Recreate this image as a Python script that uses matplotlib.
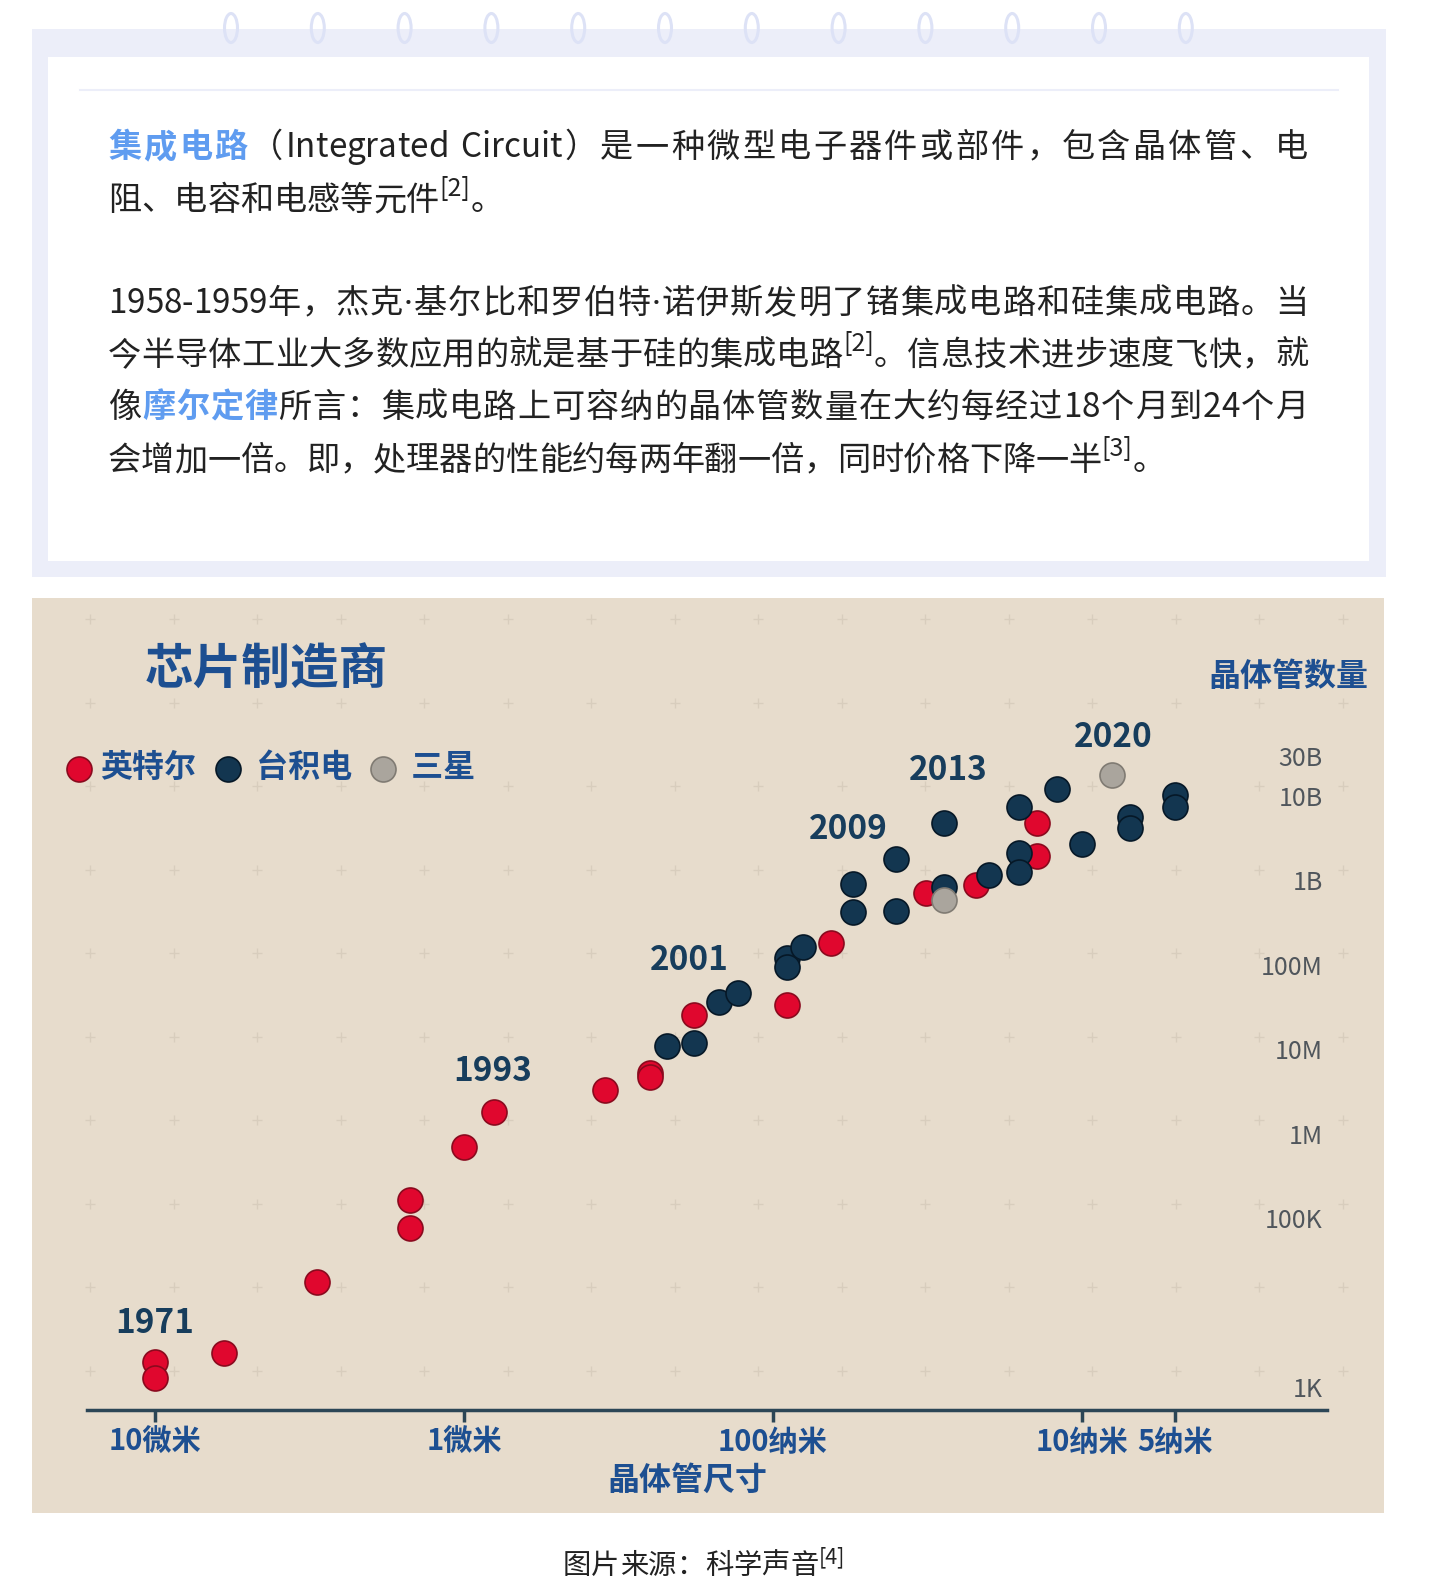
import matplotlib
matplotlib.use('Agg')
import matplotlib.pyplot as plt
import numpy as np
from matplotlib.patches import Rectangle, Ellipse
from matplotlib.font_manager import FontProperties
from matplotlib.ticker import NullLocator

plt.rcParams['font.family'] = ['Noto Sans CJK SC', 'DejaVu Sans']

W, H = 1430, 1594
CJK = ['Noto Sans CJK SC', 'DejaVu Sans']
LATIN = ['Noto Sans', 'DejaVu Sans']

# ---- chart data (feature size in nm, transistor count) ----
intel_nm = [10000, 10000, 6000, 3000, 1500, 1500, 1000, 800, 350, 250, 250,
            180, 90, 65, 32, 22, 14, 14]
intel_count = [1980, 1260, 2540, 17500, 163000, 75500, 700000, 1.82e6, 3.3e6,
               5.27e6, 4.65e6, 25.4e6, 33.4e6, 181e6, 709e6, 882e6, 4.79e9, 1.95e9]

tsmc_nm = [220, 180, 150, 130, 90, 90, 80, 55, 55, 40, 40, 28, 28, 20,
           16, 16, 16, 12, 10, 7, 7, 5, 5]
tsmc_count = [10.9e6, 12.0e6, 36.2e6, 46.3e6, 120e6, 94e6, 162e6, 906e6, 422e6,
              1.79e9, 434e6, 4.79e9, 835e6, 1.16e9, 7.41e9, 2.11e9, 1.26e9,
              12.1e9, 2.70e9, 5.64e9, 4.18e9, 10.3e9, 7.41e9]

samsung_nm = [28, 8]
samsung_count = [586e6, 17.7e9]

years = ['1971', '1993', '2001', '2009', '2013', '2020']
year_nm = [10000, 805, 187, 57, 27, 7.9]
year_count = [5700, 5.37e6, 111e6, 4.06e9, 20.3e9, 50e9]

x_ticks = [10000, 1000, 100, 10, 5]
x_labels = ['10微米', '1微米', '100纳米', '10纳米', '5纳米']
y_ticks = [1e3, 1e5, 1e6, 1e7, 1e8, 1e9, 1e10, 3e10]
y_labels = ['1K', '100K', '1M', '10M', '100M', '1B', '10B', '30B']

# ---- paragraph text: (runs, justify) ; kinds: n normal, b blue bold, s superscript ----
para_lines = [
    ([('集成电路', 'b'), ('（Integrated Circuit）是一种微型电子器件或部件，包含晶体管、电', 'n')], True),
    ([('阻、电容和电感等元件', 'n'), ('[2]', 's'), ('。', 'n')], False),
    ([('1958-1959年，杰克·基尔比和罗伯特·诺伊斯发明了锗集成电路和硅集成电路。当', 'n')], True),
    ([('今半导体工业大多数应用的就是基于硅的集成电路', 'n'), ('[2]', 's'), ('。信息技术进步速度飞快，就', 'n')], True),
    ([('像', 'n'), ('摩尔定律', 'b'), ('所言：集成电路上可容纳的晶体管数量在大约每经过18个月到24个月', 'n')], True),
    ([('会增加一倍。即，处理器的性能约每两年翻一倍，同时价格下降一半', 'n'), ('[3]', 's'), ('。', 'n')], False),
]
line_baselines = [157, 210, 313, 365, 417, 470]
caption_runs = [('图片来源：科学声音', 'n'), ('[4]', 's')]

INK = '#222222'
LINK = '#5f9cf0'
NAVY = '#1d4f91'
YEAR = '#173d5c'

fig = plt.figure(figsize=(W / 100, H / 100), dpi=100)
fig.patch.set_facecolor('white')

# background layer in pixel coordinates
ax_bg = fig.add_axes([0, 0, 1, 1])
ax_bg.set_xlim(0, W)
ax_bg.set_ylim(H, 0)
ax_bg.axis('off')

# top card
ax_bg.add_patch(Rectangle((32, 29), 1354, 548, color='#eceef9', lw=0))
ax_bg.add_patch(Rectangle((48, 57), 1321, 504, color='white', lw=0))
ax_bg.plot([80, 1338], [90, 90], color='#eceef9', lw=1.5)
for i in range(12):
    ax_bg.add_patch(Ellipse((231 + 86.8 * i, 28), 13, 29, fill=False,
                            edgecolor='#dde2f6', lw=2.2))

# chart panel
ax_bg.add_patch(Rectangle((32, 598), 1352, 915, color='#e7dccc', lw=0))
gx, gy = np.meshgrid(90 + 83.5 * np.arange(16), 619 + 83.5 * np.arange(10))
ax_bg.plot(gx.ravel(), gy.ravel(), ls='none', marker='+', ms=7, mew=1.0,
           color='#d8cdbd')

renderer = fig.canvas.get_renderer()


def advance(text, prop):
    a = renderer.get_text_width_height_descent('|' + text + '|', prop, ismath=False)[0]
    b = renderer.get_text_width_height_descent('||', prop, ismath=False)[0]
    return a - b


def is_word(t):
    return len(t) == 1 and t.isascii() and (t.isalnum() or t == '-')


def draw_runs(x0, base, runs, size, sup_size, raise_px, target=None):
    props = {'n': FontProperties(family=CJK, size=size),
             'b': FontProperties(family=CJK, size=size, weight='bold'),
             's': FontProperties(family=CJK, size=sup_size),
             'd': FontProperties(family=LATIN, size=size)}
    pieces = []
    for txt, kind in runs:
        if kind == 's':
            pieces.append((txt, kind))
        else:
            pieces += [(ch, 'd' if ch == '·' else kind) for ch in txt]
    widths = [advance(t, props[k]) for t, k in pieces]
    # extra space only goes between CJK characters, not inside latin words
    slots = [not (is_word(pieces[i][0]) and is_word(pieces[i + 1][0]))
             for i in range(len(pieces) - 1)] + [False]
    gap = 0.0
    if target is not None:
        gap = (target - sum(widths)) / max(sum(slots), 1)
    x = x0
    for (t, k), w, slot in zip(pieces, widths, slots):
        y = base - raise_px if k == 's' else base
        ax_bg.text(x, y, t, fontproperties=props[k], color=LINK if k == 'b' else INK,
                   ha='left', va='baseline')
        x += w + (gap if slot else 0.0)


for (runs, justify), base in zip(para_lines, line_baselines):
    draw_runs(108, base, runs, 23.9, 18, 14, 1200 if justify else None)

draw_runs(563, 1574, caption_runs, 20.4, 15.5, 11)

# chart titles
ax_bg.text(145, 670, '芯片制造商', fontsize=35, fontweight='heavy', color=NAVY,
           ha='left', va='center')
ax_bg.text(1208, 677, '晶体管数量', fontsize=23, fontweight='bold', color=NAVY,
           ha='left', va='center')

# ---- chart axes ----
ax = fig.add_axes([87 / W, (H - 1410) / H, 1240 / W, 810 / H])
ax.set_facecolor('none')
ax.set_xscale('log')
ax.set_yscale('log')
ax.set_xlim(16600, 1.61)
ax.set_ylim(531, 2.1e12)

ax.scatter(intel_nm, intel_count, s=324, color='#e0072e', edgecolor='#8a0a1e',
           linewidth=1.2, zorder=3, label='英特尔')
ax.scatter(tsmc_nm, tsmc_count, s=324, color='#133650', edgecolor='#061827',
           linewidth=1.2, zorder=4, label=' 台积电')
ax.scatter(samsung_nm, samsung_count, s=324, color='#aaa59d', edgecolor='#807b73',
           linewidth=1.2, zorder=5, label=' 三星')

for yr, xn, yc in zip(years, year_nm, year_count):
    ax.text(xn, yc, yr, fontsize=24, fontweight='bold', color=YEAR,
            ha='center', va='center', zorder=6)

for side in ['top', 'left', 'right']:
    ax.spines[side].set_visible(False)
ax.spines['bottom'].set_color('#2c4656')
ax.spines['bottom'].set_linewidth(2.5)

ax.xaxis.set_minor_locator(NullLocator())
ax.yaxis.set_minor_locator(NullLocator())
ax.set_xticks(x_ticks)
ax.set_xticklabels(x_labels, fontproperties=FontProperties(family=CJK, size=21, weight='bold'),
                   color=NAVY)
ax.tick_params(axis='x', direction='out', length=8.6, width=2.5, color='#2c4656', pad=3.5)

ax.yaxis.tick_right()
ax.set_yticks(y_ticks)
ax.set_yticklabels(y_labels, fontsize=18, color='#50565c')
ax.tick_params(axis='y', length=0, pad=-3)
for lab in ax.get_yticklabels():
    lab.set_horizontalalignment('right')

ax.set_xlabel('晶体管尺寸', fontsize=23, fontweight='bold', color=NAVY)
ax.xaxis.set_label_coords((687 - 87) / 1240, (1410 - 1465) / 810)

ax.legend(loc='center left', bbox_to_anchor=(65 / W, 1 - 768 / H),
          bbox_transform=fig.transFigure, ncol=3, frameon=False, borderpad=0,
          borderaxespad=0, handlelength=0.9, handletextpad=0.2, columnspacing=0.54,
          scatterpoints=1,
          prop=FontProperties(family=CJK, size=23, weight='bold'), labelcolor=NAVY)

fig.savefig('out.png', dpi=100)
